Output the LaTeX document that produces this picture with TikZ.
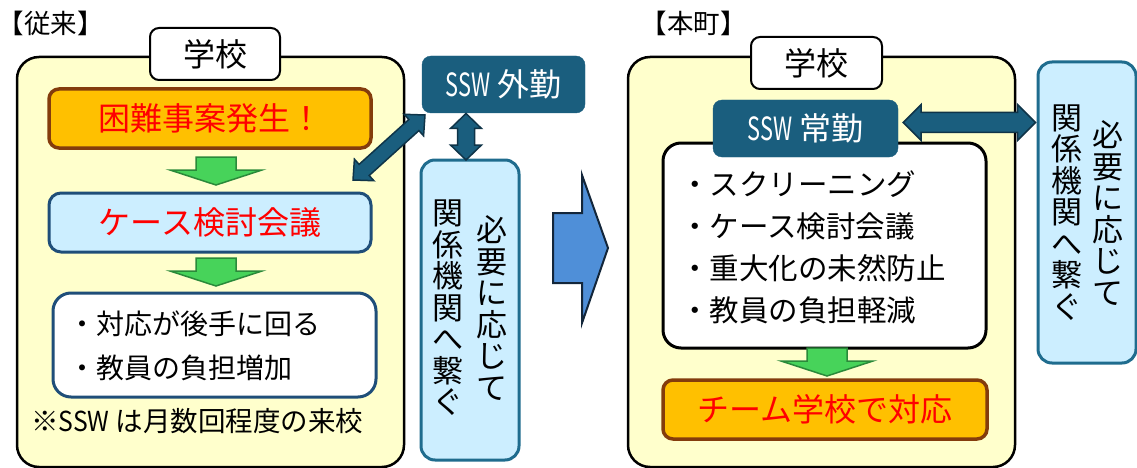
\documentclass[tikz,border=0pt]{standalone}
\usepackage{fontspec}
\usepackage{graphicx}
\setmainfont{Noto Sans CJK JP}
\usetikzlibrary{calc}
\definecolor{bgY}{HTML}{FFFFCC}
\definecolor{orangeF}{HTML}{FFC000}
\definecolor{brownB}{HTML}{843C0C}
\definecolor{lblue}{HTML}{CCEEFF}
\definecolor{navyB}{HTML}{1F4E79}
\definecolor{tealB}{HTML}{1F6C8E}
\definecolor{sswF}{HTML}{1A5E7E}
\definecolor{sswB}{HTML}{0F3448}
\definecolor{greenF}{HTML}{47D35A}
\definecolor{greenB}{HTML}{2A8A3A}
\definecolor{bigF}{HTML}{4F8FD8}
\definecolor{bigB}{HTML}{13263A}
\definecolor{txtred}{HTML}{FF0000}
\newcommand\SSWtxt[1]{\scalebox{#1}[1]{SSW}}
% double arrow between two coordinates: #1 A, #2 B, #3 shaft half, #4 head half, #5 head length
\newcommand\dblarr[5]{%
 \draw[darrow] (#1)
  -- ($($(#1)!#5!(#2)$)!#4!90:(#2)$)
  -- ($($(#1)!#5!(#2)$)!#3!90:(#2)$)
  -- ($($(#2)!#5!(#1)$)!#3!-90:(#1)$)
  -- ($($(#2)!#5!(#1)$)!#4!-90:(#1)$)
  -- (#2)
  -- ($($(#2)!#5!(#1)$)!#4!90:(#1)$)
  -- ($($(#2)!#5!(#1)$)!#3!90:(#1)$)
  -- ($($(#1)!#5!(#2)$)!#3!-90:(#2)$)
  -- ($($(#1)!#5!(#2)$)!#4!-90:(#2)$)
  -- cycle;}
% green down arrow centred at x=#1 with top at y=#2
\newcommand\garr[2]{%
 \draw[garrow] (#1-20,#2) -- (#1+20,#2) -- (#1+20,#2+13) -- (#1+46,#2+13)
  -- (#1,#2+28) -- (#1-46,#2+13) -- (#1-20,#2+13) -- cycle;}
\begin{document}
\begin{tikzpicture}[x=1pt,y=-1pt,
 panel/.style={draw=black, line width=2.5pt, fill=bgY, rounded corners=22pt, inner sep=0pt},
 tab/.style={draw=black, line width=2pt, fill=white, rounded corners=9pt, inner sep=0pt,
   font=\fontsize{32}{36}\selectfont},
 evt/.style={draw=brownB, line width=3.5pt, fill=orangeF, rounded corners=10pt, inner sep=0pt,
   text=txtred, font=\fontsize{32}{36}\selectfont},
 meet/.style={draw=navyB, line width=3pt, fill=lblue, rounded corners=12pt, inner sep=0pt,
   text=txtred, font=\fontsize{32}{36}\selectfont},
 listbox/.style={fill=white, rounded corners=18pt, inner sep=0pt},
 ssw/.style={fill=sswF, draw=sswF, rounded corners=9pt, inner sep=0pt, text=white,
   font=\fontsize{32}{36}\selectfont},
 kan/.style={draw=tealB, line width=3pt, fill=lblue, rounded corners=14pt, inner sep=0pt},
 vcol/.style={align=center, inner sep=0pt, font=\fontsize{31}{31.5}\selectfont},
 item/.style={anchor=west, inner sep=0pt},
 itemL/.style={item, font=\fontsize{28}{30}\selectfont},
 itemR/.style={item, font=\fontsize{29.5}{30}\selectfont},
 heading/.style={inner sep=0pt, font=\fontsize{26.5}{30}\selectfont},
 garrow/.style={fill=greenF, draw=greenB, line width=1.5pt, line join=miter},
 darrow/.style={fill=sswF, draw=sswB, line width=1.5pt, line join=miter},
 bigarrow/.style={fill=bigF, draw=bigB, line width=2pt, line join=miter}]
\useasboundingbox (0,0) rectangle (1137,468);

% ---------- left panel ----------
\node[heading] (hL) at (51,23.5) {【従来】};
\node[panel, minimum width=387pt, minimum height=410pt] (outerL) at (210.5,262) {};
\node[tab, minimum width=130pt, minimum height=52pt] (tabL) at (215,54) {学校};
\node[evt, minimum width=322pt, minimum height=59pt] (konnan) at (210,118.5) {困難事案発生！};
\garr{216}{157}
\node[meet, minimum width=322pt, minimum height=59pt] (case) at (210,222.5) {ケース検討会議};
\garr{216}{258}
\node[listbox, draw=navyB, line width=3pt, minimum width=323pt, minimum height=104pt] (listL) at (214.5,345) {};
\node[itemL] (l1) at (68,324) {・対応が後手に回る};
\node[itemL] (l2) at (68,368) {・教員の負担増加};
\node[item, font=\fontsize{27.5}{30}\selectfont] (note) at (31,421) {※\SSWtxt{0.9} は月数回程度の来校};

\node[ssw, minimum width=163pt, minimum height=57pt] (ssw1) at (503.5,84.5) {\SSWtxt{0.68} 外勤};
\node[kan, minimum width=98pt, minimum height=300pt] (kan1) at (470,310) {};
\node[vcol] (kan1r) at (492,308) {必\\要\\に\\応\\じ\\て};
\node[vcol] (kan1l) at (448,308) {関\\係\\機\\関\\へ\\繋\\ぐ};

\coordinate (dA) at (353,180);
\coordinate (dB) at (425,115);
\dblarr{dA}{dB}{7.5pt}{14.5pt}{15pt}
\coordinate (vA) at (466,113.5);
\coordinate (vB) at (466,160);
\dblarr{vA}{vB}{8.5pt}{15.5pt}{15pt}

% ---------- big arrow ----------
\draw[bigarrow] (553,213) -- (582,213) -- (582,175) -- (608,248) -- (582,323) -- (582,283) -- (553,283) -- cycle;

% ---------- right panel ----------
\node[heading] (hR) at (693.5,23.5) {【本町】};
\node[panel, minimum width=387pt, minimum height=410pt] (outerR) at (821.5,262) {};
\node[tab, minimum width=131pt, minimum height=52pt] (tabR) at (816.5,63) {学校};
\node[listbox, draw=black, line width=3pt, minimum width=323pt, minimum height=205pt] (listR) at (824.5,245.5) {};
\node[ssw, minimum width=185pt, minimum height=57pt] (sswR) at (805.5,128.5) {\SSWtxt{0.68} 常勤};
\node[itemR] (r1) at (680,184) {・スクリーニング};
\node[itemR] (r2) at (680,226) {・ケース検討会議};
\node[itemR] (r3) at (680,268) {・重大化の未然防止};
\node[itemR] (r4) at (680,310) {・教員の負担軽減};
\garr{827}{348}
\node[evt, minimum width=324pt, minimum height=59pt] (team) at (825,409.5) {チーム学校で対応};

\node[kan, minimum width=98pt, minimum height=301pt] (kanR) at (1087,212.5) {};
\node[vcol] (kanRr) at (1108,213) {必\\要\\に\\応\\じ\\て};
\node[vcol] (kanRl) at (1067,212.5) {関\\係\\機\\関\\へ\\繋\\ぐ};

\coordinate (hA) at ($(sswR.east)+(5,-6)$);
\coordinate (hB) at ($(kanR.west |- hA)+(-1,0)$);
\dblarr{hA}{hB}{10pt}{18pt}{18pt}
\end{tikzpicture}
\end{document}
